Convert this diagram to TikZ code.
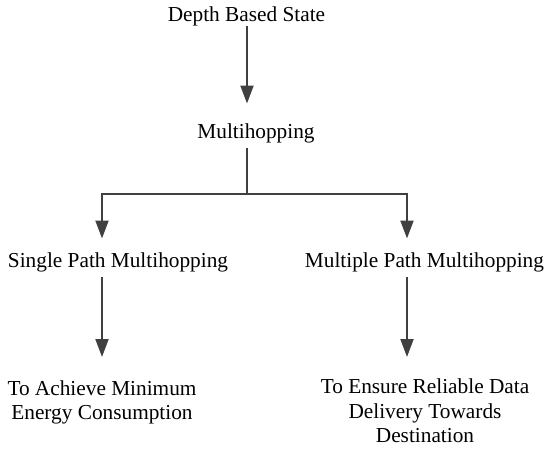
\documentclass[tikz,border=0pt]{standalone}
\usepackage{fontspec}
\setmainfont{Liberation Serif}
\usepackage{xcolor}
\usepackage{tikz}
\usetikzlibrary{arrows.meta,positioning,calc}
\definecolor{linegray}{HTML}{404040}

\begin{document}
\begin{tikzpicture}[x=1pt,y=-1pt,
    lbl/.style={inner sep=0pt,font=\fontsize{21.3}{24.5}\selectfont,align=center},
    conn/.style={draw=linegray,line width=2pt},
    arr/.style={conn,-{Triangle[length=18pt,width=13pt]}}]
    \useasboundingbox (0,0) rectangle (550,455);

    % Labels
    \node[lbl,anchor=base] (depth) at (246.5,21) {Depth Based State};
    \node[lbl,anchor=base] (hop) at (256,138) {Multihopping};
    \node[lbl,anchor=base] (single) at (118,267) {Single Path Multihopping};
    \node[lbl,anchor=base] (multi) at (424.5,267) {Multiple Path Multihopping};
    \node[lbl,anchor=north] (energy) at (102,380.5) {To Achieve Minimum\\Energy Consumption};
    \node[lbl,anchor=north] (deliver) at (425,379) {To Ensure Reliable Data\\Delivery Towards\\Destination};

    % Branch points
    \coordinate (split) at (247,194);
    \coordinate (leftx) at (102,194);
    \coordinate (rightx) at (407,194);

    % Depth based state to multihopping
    \draw[arr,shorten >=19.5pt] (depth.south -| split) -- (hop.north -| split);

    % Split into single and multiple path
    \draw[conn,shorten <=5.5pt] (hop.south -| split) -- (split);
    \draw[arr,shorten >=13.5pt] (split) -| (single.north -| leftx);
    \draw[arr,shorten >=13.5pt] (split) -| (multi.north -| rightx);

    % Goals
    \draw[arr,shorten <=5.5pt,shorten >=23.5pt] (single.south -| leftx) -- (energy.north -| leftx);
    \draw[arr,shorten <=5.5pt,shorten >=22pt] (multi.south -| rightx) -- (deliver.north -| rightx);

\end{tikzpicture}
\end{document}
